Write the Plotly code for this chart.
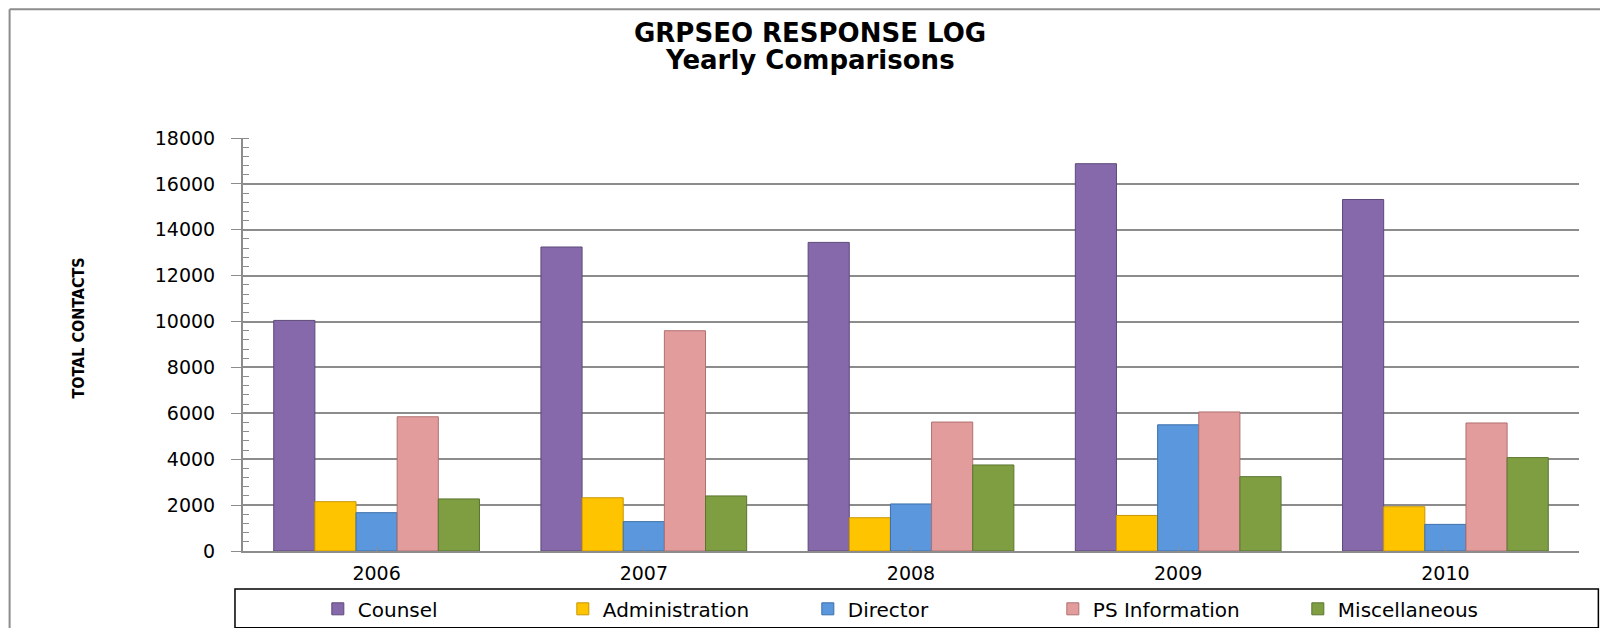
import plotly.graph_objects as go

years = ['2006', '2007', '2008', '2009', '2010']

counsel = [10050, 13250, 13450, 16880, 15320]
administration = [2150, 2320, 1450, 1550, 1930]
director = [1670, 1280, 2050, 5500, 1160]
ps_information = [5850, 9600, 5620, 6060, 5580]
miscellaneous = [2270, 2400, 3750, 3240, 4070]

series = [
    ('Counsel', counsel, '#8569AA', '#5E4A7A'),
    ('Administration', administration, '#FFC400', '#C89600'),
    ('Director', director, '#5A97DD', '#3C6FA8'),
    ('PS Information', ps_information, '#E39C9C', '#B07070'),
    ('Miscellaneous', miscellaneous, '#7F9E42', '#5A7530'),
]

fig = go.Figure()

for name, values, color, edge in series:
    fig.add_trace(go.Bar(
        x=years, y=values, name=name,
        marker=dict(color=color, line=dict(color=edge, width=1)),
    ))

tick_font = dict(family='DejaVu Sans', size=19, color='black')
title_font = dict(family='DejaVu Sans', size=26, color='black')
border = dict(color='#8C8C8C', width=2)

# the page body adds an 8px margin, so the figure is 16px smaller than the window
fig.update_layout(
    width=1592, height=620,
    paper_bgcolor='white', plot_bgcolor='white',
    margin=dict(l=235, r=21, t=130, b=77, autoexpand=False),
    barmode='group', bargap=0.23, bargroupgap=0,
    xaxis=dict(
        showline=True, linecolor='#8C8C8C', linewidth=2,
        ticks='inside', ticklen=4, tickcolor='#8C8C8C',
        tickfont=tick_font, showgrid=False, ticklabelstandoff=4,
    ),
    yaxis=dict(
        range=[0, 18000], dtick=2000, tickformat='d',
        showline=True, linecolor='#8C8C8C', linewidth=2,
        ticks='outside', ticklen=10, tickcolor='#8C8C8C',
        showgrid=True, gridcolor='#8C8C8C', gridwidth=1.5,
        tickfont=tick_font, zeroline=False, ticklabelstandoff=12,
        minor=dict(dtick=400, ticks='inside', ticklen=6, tickcolor='#8C8C8C', showgrid=False),
    ),
    legend=dict(
        orientation='h', x=0.056, xanchor='left', y=-0.140, yanchor='middle',
        entrywidth=200, entrywidthmode='pixels',
        font=dict(family='DejaVu Sans', size=20, color='black'),
        bgcolor='rgba(0,0,0,0)',
    ),
    annotations=[
        dict(text='<b>GRPSEO RESPONSE LOG</b>', x=0.4244, y=1.295,
             xref='paper', yref='paper', showarrow=False, font=title_font),
        dict(text='<b>Yearly Comparisons</b>', x=0.4244, y=1.229,
             xref='paper', yref='paper', showarrow=False, font=title_font),
        dict(text='<b>TOTAL CONTACTS</b>', textangle=-90,
             x=-0.1317, xref='paper', y=0.54, yref='paper', showarrow=False,
             font=dict(family='DejaVu Sans Condensed, Liberation Sans', size=16, color='black')),
    ],
    shapes=[
        # legend box, its right edge sits at the figure edge
        dict(type='rect', xref='paper', yref='paper',
             x0=-0.006, x1=1.0145, y0=-0.186, y1=-0.092,
             line=dict(color='black', width=1.5)),
        # outer chart border (top and left edges only, the rest is off-page)
        dict(type='line', xref='paper', yref='paper',
             x0=-0.1747, x1=1.016, y0=1.312, y1=1.312, line=border),
        dict(type='line', xref='paper', yref='paper',
             x0=-0.1747, x1=-0.1747, y0=-0.25, y1=1.312, line=border),
    ],
)

fig.write_html('out.html', config={'displayModeBar': False})
